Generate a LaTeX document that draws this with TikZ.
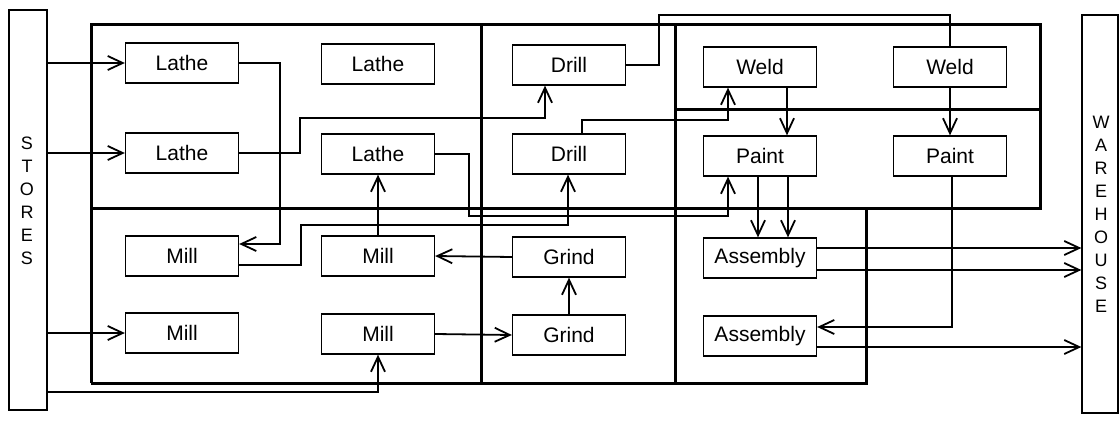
\documentclass[tikz,border=0pt]{standalone}
\usepackage{fontspec}
\setmainfont{Liberation Sans}
\usetikzlibrary{arrows.meta}
\begin{document}
\begin{tikzpicture}[x=1pt,y=-1pt,
 box/.style={draw, line width=1.3pt, minimum width=113pt, minimum height=40pt, inner sep=0pt, font=\fontsize{21}{25}\selectfont},
 dept/.style={line width=3pt, line join=miter},
 conn/.style={line width=1.8pt, -{Straight Barb[length=15pt,width=14pt]}},
 wire/.style={line width=1.8pt},
 bar/.style={draw, line width=1.3pt, inner sep=0pt},
 vtext/.style={align=center, font=\fontsize{18}{23}\selectfont}]
\useasboundingbox (0,0) rectangle (1119,428);
% department outlines
\draw[dept] (91,383) -- (91,25) -- (1040,25) -- (1040,208) -- (91,208);
\draw[dept] (91,383) -- (866,383) -- (866,208);
\draw[dept] (481,25) -- (481,383);
\draw[dept] (675,25) -- (675,383);
\draw[dept] (675,109) -- (1040,109);
% stores / warehouse
\node[bar, minimum width=38pt, minimum height=400pt] (stores) at (28,210) {};
\node[vtext] (storesT) at (27,201) {S\\T\\O\\R\\E\\S};
\node[bar, minimum width=36pt, minimum height=398pt] (wh) at (1100,214) {};
\node[vtext] (whT) at (1101,214) {W\\A\\R\\E\\H\\O\\U\\S\\E};
% machines
\node[box] (L1) at (182,63) {Lathe};
\node[box] (L2) at (182,153) {Lathe};
\node[box] (L3) at (378,64) {Lathe};
\node[box] (L4) at (378,154) {Lathe};
\node[box] (D1) at (569,65) {Drill};
\node[box] (D2) at (569,154) {Drill};
\node[box] (W1) at (760,67) {Weld};
\node[box] (W2) at (950,67) {Weld};
\node[box] (P1) at (760,156) {Paint};
\node[box] (P2) at (950,156) {Paint};
\node[box] (M1) at (182,256) {Mill};
\node[box] (M2) at (182,333) {Mill};
\node[box] (M3) at (378,256) {Mill};
\node[box] (M4) at (378,334) {Mill};
\node[box] (G1) at (569,257) {Grind};
\node[box] (G2) at (569,335) {Grind};
\node[box] (A1) at (760,258) {Assembly};
\node[box] (A2) at (760,336) {Assembly};
% connectors
\draw[conn] (stores.east|-L1.west) -- (L1.west);
\draw[conn] (stores.east|-L2.west) -- (L2.west);
\draw[conn] (stores.east|-M2.west) -- (M2.west);
\draw[conn] ([yshift=-182pt]stores.east) -| (M4.south);
\draw[conn] (L1.east) -- ++(41,0) |- ([yshift=12pt]M1.east);
\draw[conn] (L2.east) -- ++(61,0) -- ++(0,-35) -| ([xshift=-24pt]D1.south);
\draw[conn] (L4.east) -- ++(34,0) -- ++(0,62) -| ([xshift=-32pt]P1.south);
\draw[conn] ([yshift=-9pt]M1.east) -- ++(62,0) -- ++(0,-40) -| ([xshift=-1pt]D2.south);
\draw[conn] (M3.north) -- (L4.south);
\draw[conn] (G1.west) -- (M3.east);
\draw[conn] (M4.east) -- (G2.west);
\draw[conn] (G2.north) -- (G1.south);
\draw[wire] (D1.east) -- ++(33,0) -- ++(0,-50) -| (W2.north);
\draw[conn] ([xshift=13pt]D2.north) -- ++(0,-13) -| ([xshift=-32pt]W1.south);
\draw[conn] ([xshift=27pt]W1.south) -- ([xshift=27pt]P1.north);
\draw[conn] (W2.south) -- (P2.north);
\draw[conn] ([xshift=-2pt]P1.south) -- ([xshift=-2pt]A1.north);
\draw[conn] ([xshift=28pt]P1.south) -- ([xshift=28pt]A1.north);
\draw[conn] ([xshift=2pt]P2.south) |- ([yshift=9pt]A2.east);
\draw[conn] ([yshift=10pt]A1.east) -- ([yshift=10pt]A1.east -| wh.west);
\draw[conn] ([yshift=-12pt]A1.east) -- ([yshift=-12pt]A1.east -| wh.west);
\draw[conn] ([yshift=-11pt]A2.east) -- ([yshift=-11pt]A2.east -| wh.west);
\end{tikzpicture}
\end{document}
